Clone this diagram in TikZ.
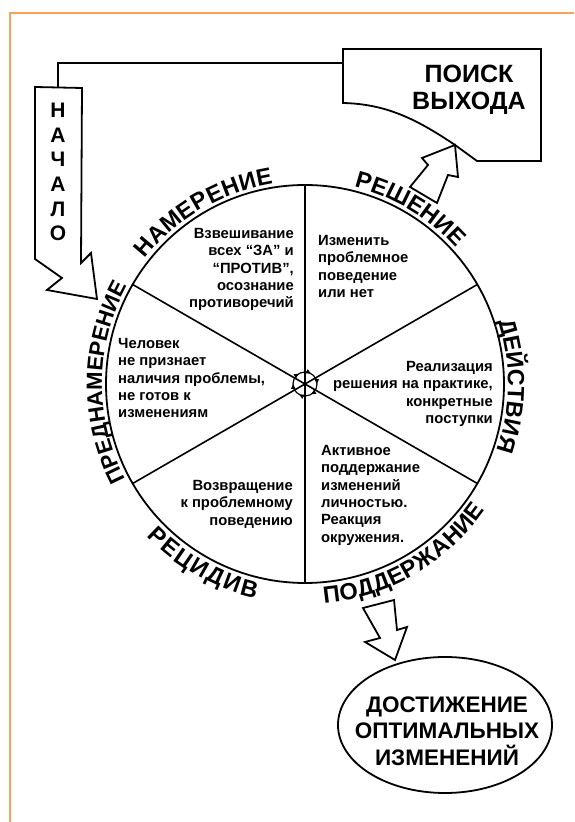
\documentclass[tikz,border=0pt]{standalone}
\usepackage{fontspec}
\setmainfont{Liberation Sans}
\usetikzlibrary{decorations.text,arrows.meta,shapes.geometric}
\definecolor{frameorange}{RGB}{248,163,88}
\newcommand\arclabelfont{\bfseries\fontsize{23.5}{23.5}\selectfont}
\newcommand\arclabelfontnarrow{\bfseries\fontsize{22}{22}\selectfont}
\begin{document}
\begin{tikzpicture}[x=1pt,y=1pt,
  outline/.style={draw=black,line width=1.8pt,line join=miter,fill=white},
  sectortext/.style={font=\bfseries\fontsize{14.8}{17.4}\selectfont,inner sep=0pt},
  bigtext/.style={font=\bfseries\fontsize{22.5}{26.5}\selectfont,inner sep=0pt,align=center},
  arclabel/.style={decorate,decoration={text along path,text align={fit to path},text={|\arclabelfont|#1}}},
  arclabelnarrow/.style={decorate,decoration={text along path,text align={fit to path},text={|\arclabelfontnarrow|#1}}}
]
\useasboundingbox (0,0) rectangle (574,822);
\fill[white] (0,0) rectangle (574,822);
% page frame
\draw[frameorange,line width=1.5pt] (10,0) -- (10,809) -- (574,809);

% the wheel of change
\coordinate (C) at (305,438);
\node[circle,draw,line width=1.8pt,minimum size=398pt,inner sep=0pt,outer sep=0pt] (wheel) at (C) {};
\draw[line width=1.6pt] (wheel.30) -- (wheel.210);
\draw[line width=1.6pt] (wheel.90) -- (wheel.270);
\draw[line width=1.6pt] (wheel.150) -- (wheel.330);

% rotation marker in the hub
\node[circle,draw,line width=1.2pt,minimum size=24pt,inner sep=0pt] (hub) at (C) {};
\foreach \a in {0,60,...,300}
  \draw[line width=1pt,-{Triangle[length=4.5pt,width=4.5pt]}]
    ([shift={(\a+30:12)}]C) arc[start angle=\a+30,end angle=\a+2,radius=12];

% stage names around the rim
\path[arclabel=НАМЕРЕНИЕ] ([shift={(142:203)}]C) arc[start angle=142,end angle=99,radius=203];
\path[arclabel=РЕШЕНИЕ] ([shift={(76:203)}]C) arc[start angle=76,end angle=42,radius=203];
\path[arclabel=ДЕЙСТВИЯ] ([shift={(18:203)}]C) arc[start angle=18,end angle=-18,radius=203];
\path[arclabelnarrow=ПРЕДНАМЕРЕНИЕ] ([shift={(208:203)}]C) arc[start angle=208,end angle=151,radius=203];
\path[arclabel=ПОДДЕРЖАНИЕ] ([shift={(-85:220)}]C) arc[start angle=-85,end angle=-35,radius=220];
\path[arclabel=РЕЦИДИВ] ([shift={(-136:220)}]C) arc[start angle=-136,end angle=-103,radius=220];

% sector descriptions
\node[sectortext,align=right,anchor=north east] (weigh) at (294,594)
  {Взвешивание\\всех “ЗА” и\\“ПРОТИВ”,\\осознание\\противоречий};
\node[sectortext,align=left,anchor=north west] (decide) at (318,587)
  {Изменить\\проблемное\\поведение\\или нет};
\node[sectortext,align=right,anchor=north east] (act) at (493,461)
  {Реализация\\решения на практике,\\конкретные\\поступки};
\node[sectortext,align=left,anchor=north west] (maintain) at (321,377)
  {Активное\\поддержание\\изменений\\личностью.\\Реакция\\окружения.};
\node[sectortext,align=right,anchor=north east] (relapse) at (293,342)
  {Возвращение\\к проблемному\\поведению};
\node[sectortext,align=left,anchor=north west] (unaware) at (118,484)
  {Человек\\не признает\\наличия проблемы,\\не готов к\\изменениям};

% start arrow
\draw[outline] (35,735) -- (82,734) -- (81,559) -- (91,569) -- (97,523)
  -- (47,532) -- (62,544) -- (35,563) -- cycle;
\node[font=\bfseries\fontsize{21}{24.6}\selectfont,align=center,inner sep=0pt] (start) at (58,650)
  {Н\\А\\Ч\\А\\Л\\О};
\coordinate (startTop) at (58,735);

% way-out box
\draw[outline] (343,773) -- (541,773) -- (541,661) -- (477,661) -- (455,677)
  .. controls (415,704) and (385,718) .. (343,719) -- cycle;
\coordinate (boxLeft) at (343,759);
\node[font=\bfseries\fontsize{25}{27}\selectfont,align=center,inner sep=0pt] (search) at (469,732)
  {ПОИСК\\ВЫХОДА};
\draw[line width=1.8pt] (startTop) |- (boxLeft);

% arrow from decision up to the way-out box
\draw[outline] (410,635) -- (428,657) -- (422,664) -- (455,677) -- (458,645)
  -- (448,647) -- (437,619) -- cycle;

% arrow from maintenance down to the goal
\draw[outline] (363,214) -- (394,222) -- (397,192) -- (407,195) -- (395,162)
  -- (365,180) -- (380,184) -- cycle;

% goal
\node[ellipse,draw,line width=1.8pt,minimum width=214pt,minimum height=136pt,inner sep=0pt] (goalshape) at (445,97) {};
\node[bigtext] (goal) at (447,91) {ДОСТИЖЕНИЕ\\ОПТИМАЛЬНЫХ\\ИЗМЕНЕНИЙ};
\end{tikzpicture}
\end{document}
